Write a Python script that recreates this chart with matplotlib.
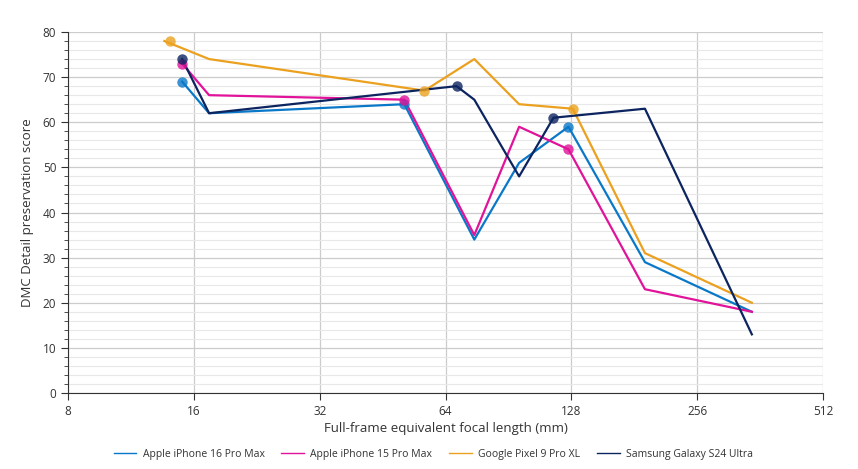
import matplotlib.pyplot as plt
from matplotlib.ticker import FixedLocator, MultipleLocator, NullLocator

plt.rcParams['font.family'] = ['Open Sans', 'DejaVu Sans']

# focal lengths (mm, full-frame equiv.) and scores
names = ['Apple iPhone 16 Pro Max', 'Apple iPhone 15 Pro Max',
         'Google Pixel 9 Pro XL', 'Samsung Galaxy S24 Ultra']
colors = ['#0a78c8', '#e0139a', '#eba11f', '#0c2460']

blue_x = [15, 17.4, 51, 75, 96, 126, 192, 346]
blue_y = [69, 62, 64, 34, 51, 59, 29, 18]
pink_x = [15, 17.4, 51, 75, 96, 126, 192, 346]
pink_y = [73, 66, 65, 35, 59, 54, 23, 18]
orange_x = [13.6, 17.4, 57, 75, 96, 129, 192, 346]
orange_y = [78, 74, 67, 74, 64, 63, 31, 20]
navy_x = [15, 17.4, 68, 75, 96, 116, 192, 346]
navy_y = [74, 62, 68, 65, 48, 61, 63, 13]

# native lens markers
blue_mx = [15, 51, 126]
blue_my = [69, 64, 59]
pink_mx = [15, 51, 126]
pink_my = [73, 65, 54]
orange_mx = [14, 57, 129]
orange_my = [78, 67, 63]
navy_mx = [15, 68, 116]
navy_my = [74, 68, 61]

series = [(blue_x, blue_y, blue_mx, blue_my),
          (pink_x, pink_y, pink_mx, pink_my),
          (orange_x, orange_y, orange_mx, orange_my),
          (navy_x, navy_y, navy_mx, navy_my)]

fig = plt.figure(figsize=(8.58, 4.69), dpi=100)
ax = fig.add_axes([0.0793, 0.162, 0.8799, 0.7698])

handles = []
for (x, y, mx, my), c, n in zip(series, colors, names):
    ax.plot(x, y, color=c, lw=1.6, zorder=3)
    ax.plot(mx, my, 'o', color=c, ms=7.5, alpha=0.8, mec='none', zorder=4)
    h, = ax.plot([], [], color=c, lw=1, label=n)
    handles.append(h)

ax.set_xscale('log', base=2)
ax.set_xlim(8, 512)
ax.set_ylim(0, 80)
xt = [8, 16, 32, 64, 128, 256, 512]
ax.xaxis.set_major_locator(FixedLocator(xt))
ax.xaxis.set_minor_locator(NullLocator())
ax.set_xticklabels([str(v) for v in xt])
ax.yaxis.set_major_locator(MultipleLocator(10))
ax.yaxis.set_minor_locator(MultipleLocator(2))

ax.grid(True, which='major', color='#cccccc', lw=0.9)
ax.grid(True, which='minor', axis='y', color='#e8e8e8', lw=0.8)
ax.set_axisbelow(True)

for s in ['top', 'right']:
    ax.spines[s].set_visible(False)
for s in ['left', 'bottom']:
    ax.spines[s].set_color('#333333')
    ax.spines[s].set_linewidth(0.8)
ax.tick_params(which='major', length=5, width=0.8, color='#333333',
               labelsize=8.5, labelcolor='#333333')
ax.tick_params(which='minor', length=3, width=0.6, color='#333333')

ax.set_xlabel('Full-frame equivalent focal length (mm)', fontsize=9.5,
              color='#333333', labelpad=3)
ax.set_ylabel('DMC Detail preservation score', fontsize=9.5,
              color='#333333', labelpad=6)

fig.legend(handles=handles, loc='lower center', ncol=4,
           bbox_to_anchor=(0.505, 0.0), frameon=False, fontsize=7.5,
           handlelength=2.2, handletextpad=0.6, columnspacing=1.6,
           labelcolor='#333333')

fig.savefig('out.png', dpi=100)
